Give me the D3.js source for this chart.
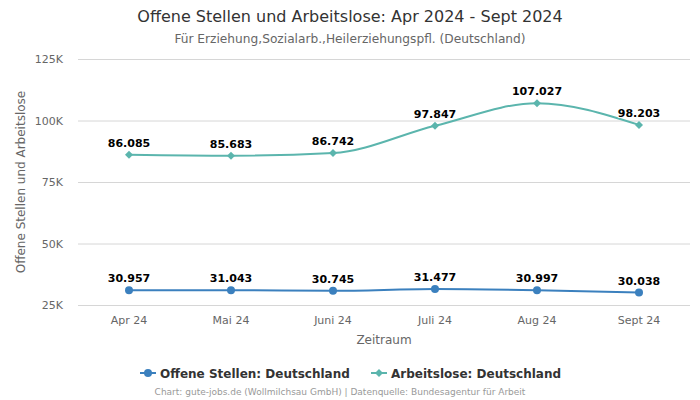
<!DOCTYPE html>
<html><head><meta charset="utf-8">
<script src="https://cdn.jsdelivr.net/npm/d3@7"></script>
<style>body{margin:0;background:#fff;font-family:"DejaVu Sans",sans-serif;}</style>
</head><body><svg id="c" width="700" height="400"></svg>
<script>
const categories = ["Apr 24","Mai 24","Juni 24","Juli 24","Aug 24","Sept 24"];
const offeneStellen = [30957,31043,30745,31477,30997,30038];
const arbeitslose = [86085,85683,86742,97847,107027,98203];
const yTicks = [25000,50000,75000,100000,125000];
const seriesNames = ["Offene Stellen: Deutschland","Arbeitslose: Deutschland"];
const colors = ["#3b80be","#5bb5ad"];

const svg = d3.select("#c");
const x = d3.scaleBand().domain(categories).range([78,690]);
const y = d3.scaleLinear().domain([25000,125000]).range([305,59]);
const fmt = v => d3.format(",")(v).replace(/,/g,".");

svg.append("text").attr("x",350).attr("y",22).attr("text-anchor","middle")
  .attr("font-size",16).attr("fill","#333").text("Offene Stellen und Arbeitslose: Apr 2024 - Sept 2024");
svg.append("text").attr("x",350).attr("y",43).attr("text-anchor","middle")
  .attr("font-size",12.2).attr("fill","#666").text("Für Erziehung,Sozialarb.,Heilerziehungspfl. (Deutschland)");

// grid
svg.append("g").selectAll("line").data(yTicks).join("line")
  .attr("x1",78).attr("x2",690).attr("y1",d=>y(d)+0.5).attr("y2",d=>y(d)+0.5)
  .attr("stroke","#d6d6d6").attr("stroke-width",1);
svg.append("g").selectAll("text").data(yTicks).join("text")
  .attr("x",63).attr("y",d=>y(d)+4).attr("text-anchor","end")
  .attr("font-size",11).attr("fill","#666").text(d=>(d/1000)+"K");
svg.append("text").attr("transform","translate(25,182) rotate(-90)").attr("text-anchor","middle")
  .attr("font-size",12).attr("fill","#666").text("Offene Stellen und Arbeitslose");

// x axis labels
svg.append("g").selectAll("text").data(categories).join("text")
  .attr("x",d=>x(d)+x.bandwidth()/2).attr("y",324).attr("text-anchor","middle")
  .attr("font-size",11).attr("fill","#666").text(d=>d);
svg.append("text").attr("x",384).attr("y",344).attr("text-anchor","middle")
  .attr("font-size",12).attr("fill","#666").text("Zeitraum");

const cx = d => x(d)+x.bandwidth()/2;
const line = d3.line().x((d,i)=>cx(categories[i])).y(d=>y(d)).curve(d3.curveMonotoneX);
[offeneStellen, arbeitslose].forEach((data,si)=>{
  const g = svg.append("g");
  g.append("path").attr("d",line(data)).attr("fill","none").attr("stroke",colors[si]).attr("stroke-width",2);
  if(si===0){
    g.selectAll("circle").data(data).join("circle").attr("cx",(d,i)=>cx(categories[i])).attr("cy",d=>y(d))
      .attr("r",4).attr("fill",colors[si]);
  } else {
    g.selectAll("path.m").data(data).join("path").attr("class","m")
      .attr("transform",(d,i)=>`translate(${cx(categories[i])},${y(d)})`)
      .attr("d","M0,-4L4,0L0,4L-4,0Z").attr("fill",colors[si]);
  }
  g.selectAll("text").data(data).join("text")
    .attr("x",(d,i)=>cx(categories[i])).attr("y",d=>y(d)-8).attr("text-anchor","middle")
    .attr("font-size",11).attr("font-weight","bold").attr("fill","#000")
    .attr("stroke","#fff").attr("stroke-width",2).attr("paint-order","stroke")
    .text(d=>fmt(d));
});

// legend
const leg = svg.append("g");
const lx = [140,371];
seriesNames.forEach((n,i)=>{
  const gg = leg.append("g").attr("transform",`translate(${lx[i]},373)`);
  gg.append("line").attr("x1",0).attr("x2",16).attr("y1",0).attr("y2",0).attr("stroke",colors[i]).attr("stroke-width",2);
  if(i===0) gg.append("circle").attr("cx",8).attr("cy",0).attr("r",4).attr("fill",colors[i]);
  else gg.append("path").attr("transform","translate(8,0)").attr("d","M0,-4L4,0L0,4L-4,0Z").attr("fill",colors[i]);
  gg.append("text").attr("x",20).attr("y",4.5).attr("font-size",12).attr("font-weight","bold").attr("fill","#333").text(n);
});
svg.append("text").attr("x",340).attr("y",395).attr("text-anchor","middle")
  .attr("font-size",9).attr("fill","#999").text("Chart: gute-jobs.de (Wollmilchsau GmbH) | Datenquelle: Bundesagentur für Arbeit");
</script></body></html>
